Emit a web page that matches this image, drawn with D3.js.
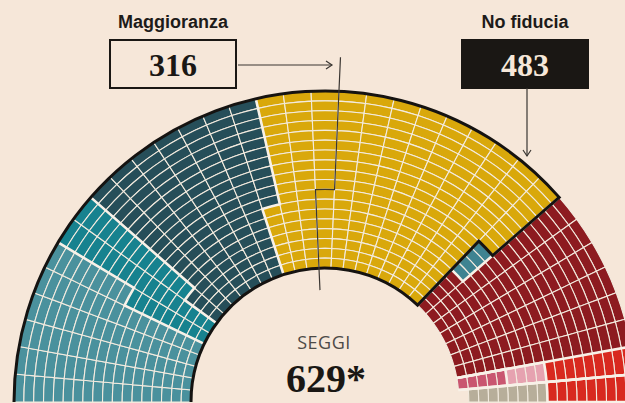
<!DOCTYPE html>
<html>
<head>
<meta charset="utf-8">
<script src="https://cdn.jsdelivr.net/npm/d3@7"></script>
<style>
  body { margin: 0; background: #f6e7d9; }
</style>
</head>
<body>
<script>
// seat blocks, in fill order (column by column, outer row first)
const blocks = ["azzurro", "verde acqua", "blu scuro", "giallo", "blu", "rosso scuro",
                "rosso", "rosa chiaro", "rosa", "rosso", "grigio"];
const seats  = [99, 41, 123, 214, 4, 113, 9, 4, 5, 9, 8];
const colors = ["#4a919d", "#17828f", "#264e59", "#d9a80b", "#3e8391", "#8d1b20",
                "#d8291f", "#e6a2b0", "#c95670", "#d8291f", "#b7ae9a"];

const labels = ["Maggioranza", "No fiducia"];
const labelValues = [316, 483];
const outlinedBlocks = 4;          // blocks inside the black outline
const totalLabel = "SEGGI";
const totalValue = "629*";

const rows = 18, cols = 35;
const width = 625, height = 403;
const cx = 325, cy = 402, r0 = 134, R = 311;

const svg = d3.select("body")
              .append("svg")
              .attr("width", width)
              .attr("height", height)
              .style("display", "block");

svg.append("rect")
   .attr("width", width)
   .attr("height", height)
   .attr("fill", "#f6e7d9");

const g = svg.append("g");

// polar scales: column -> angle (0 at 12 o'clock, clockwise), row -> radius
const ang = d3.scaleLinear().domain([0, cols]).range([-Math.PI / 2, Math.PI / 2]);
const rad = d3.scaleLinear().domain([0, rows]).range([r0, R]);
const pt = (r, a) => [cx + r * Math.sin(a), cy - r * Math.cos(a)];

// one record per seat
const seatData = [];
blocks.forEach((b, i) => {
  for (let k = 0; k < seats[i]; k++) seatData.push({ block: b, color: colors[i] });
});
seatData.forEach((d, s) => {
  d.col = Math.floor(s / rows);
  d.row = rows - 1 - (s % rows);
});

const arc = d3.arc()
  .innerRadius(d => rad(d.row))
  .outerRadius(d => rad(d.row + 1))
  .startAngle(d => ang(d.col))
  .endAngle(d => ang(d.col + 1));

g.selectAll("path.seat")
 .data(seatData)
 .enter()
 .append("path")
 .attr("class", "seat")
 .attr("transform", `translate(${cx},${cy})`)
 .attr("d", arc)
 .attr("fill", d => d.color)
 .attr("stroke", "#f3ebdf")
 .attr("stroke-width", 1.1);

// boundary after c seats (radial line with a step)
function cutPath(c, rOut, rIn) {
  const col = Math.floor(c / rows), rem = c % rows;
  if (rem === 0) {
    return "M" + pt(rOut, ang(col)) + "L" + pt(rIn, ang(col));
  }
  const rr = rad(rows - rem);
  return "M" + pt(rOut, ang(col + 1)) + "L" + pt(rr, ang(col + 1)) +
         "A" + rr + "," + rr + " 0 0 0 " + pt(rr, ang(col)) +
         "L" + pt(rIn, ang(col));
}

const cum = d3.cumsum(seats);

// white lines between blocks
cum.slice(0, -1).forEach(c => {
  g.append("path")
   .attr("d", cutPath(c, R, r0))
   .attr("fill", "none")
   .attr("stroke", "#f8f1e8")
   .attr("stroke-width", 2.6);
});

// black outline round the first blocks
const cOut = cum[outlinedBlocks - 1];
const colO = Math.floor(cOut / rows), remO = cOut % rows;
const rr = rad(rows - remO);
const outline = "M" + pt(R, ang(0)) +
  "A" + R + "," + R + " 0 0 1 " + pt(R, ang(colO + 1)) +
  "L" + pt(rr, ang(colO + 1)) +
  "A" + rr + "," + rr + " 0 0 0 " + pt(rr, ang(colO)) +
  "L" + pt(r0, ang(colO)) +
  "A" + r0 + "," + r0 + " 0 0 0 " + pt(r0, ang(0));
g.append("path")
 .attr("d", outline)
 .attr("fill", "none")
 .attr("stroke", "#151311")
 .attr("stroke-width", 3)
 .attr("stroke-linejoin", "miter");

// majority line
g.append("path")
 .attr("d", cutPath(labelValues[0], cy - 57, 112))
 .attr("fill", "none")
 .attr("stroke", "#3a3632")
 .attr("stroke-width", 1.2);

// labels and boxes
const boxX = [110, 462], boxY = 40, boxW = 126, boxH = 48;
const ann = svg.append("g");

labels.forEach((t, i) => {
  ann.append("text")
     .attr("x", boxX[i] + boxW / 2)
     .attr("y", 28)
     .attr("text-anchor", "middle")
     .attr("font-family", "'Liberation Sans Narrow', 'Liberation Sans', sans-serif")
     .attr("font-weight", "bold")
     .attr("font-size", "18px")
     .attr("fill", "#1d1b19")
     .text(t);

  ann.append("rect")
     .attr("x", boxX[i])
     .attr("y", boxY)
     .attr("width", boxW)
     .attr("height", boxH)
     .attr("fill", i === 0 ? "none" : "#1a1714")
     .attr("stroke", "#1a1714")
     .attr("stroke-width", 2);

  ann.append("text")
     .attr("x", boxX[i] + boxW / 2)
     .attr("y", boxY + 36)
     .attr("text-anchor", "middle")
     .attr("font-family", "'Liberation Serif', serif")
     .attr("font-weight", "bold")
     .attr("font-size", "32px")
     .attr("fill", i === 0 ? "#1a1714" : "#f6e7d9")
     .text(labelValues[i]);
});

// arrows
const arrowColor = "#3a3632";
const ax1 = boxX[0] + boxW + 2, ax2 = 332, ay = 65;
ann.append("line")
   .attr("x1", ax1).attr("y1", ay).attr("x2", ax2).attr("y2", ay)
   .attr("stroke", arrowColor).attr("stroke-width", 1.2);
ann.append("path")
   .attr("d", `M${ax2 - 6},${ay - 4}L${ax2},${ay}L${ax2 - 6},${ay + 4}`)
   .attr("fill", "none").attr("stroke", arrowColor).attr("stroke-width", 1.2);

const bx = 527, by1 = boxY + boxH, by2 = 156;
ann.append("line")
   .attr("x1", bx).attr("y1", by1).attr("x2", bx).attr("y2", by2)
   .attr("stroke", arrowColor).attr("stroke-width", 1.2);
ann.append("path")
   .attr("d", `M${bx - 4},${by2 - 6}L${bx},${by2}L${bx + 4},${by2 - 6}`)
   .attr("fill", "none").attr("stroke", arrowColor).attr("stroke-width", 1.2);

// centre text
ann.append("text")
   .attr("x", 324)
   .attr("y", 349)
   .attr("text-anchor", "middle")
   .attr("font-family", "'Open Sans', sans-serif")
   .attr("font-size", "18px")
   .attr("letter-spacing", "0.5px")
   .attr("fill", "#4d4a47")
   .text(totalLabel);

ann.append("text")
   .attr("x", 326)
   .attr("y", 392)
   .attr("text-anchor", "middle")
   .attr("font-family", "'Liberation Serif', serif")
   .attr("font-weight", "bold")
   .attr("font-size", "40px")
   .attr("fill", "#1a1714")
   .text(totalValue);
</script>
</body>
</html>
